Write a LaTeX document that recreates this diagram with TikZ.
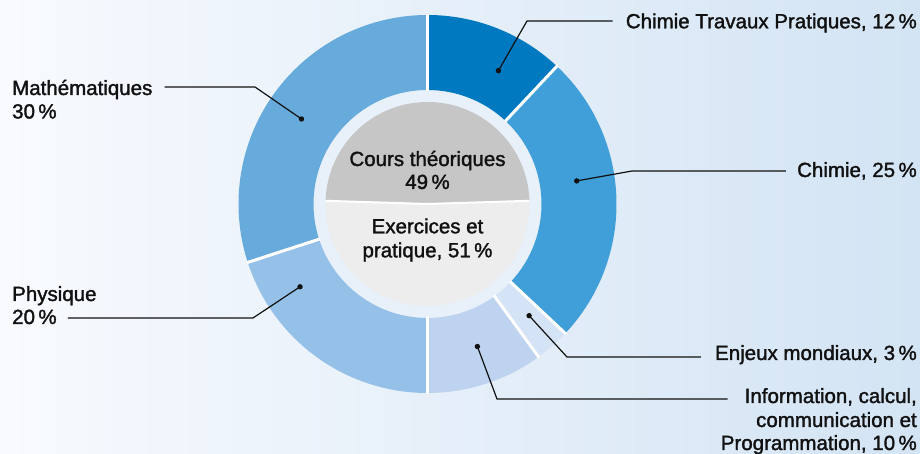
\documentclass[tikz,border=0pt]{standalone}
\usepackage{fontspec}
\setmainfont{Liberation Sans}[FakeBold=1.6]
\usetikzlibrary{calc}
\definecolor{bgL}{HTML}{F8FAFE}
\definecolor{bgR}{HTML}{D3E4F4}
\definecolor{pale}{HTML}{E8F0FA}
\definecolor{cCTP}{HTML}{0079C1}
\definecolor{cCh}{HTML}{409FD8}
\definecolor{cEn}{HTML}{D4E3F5}
\definecolor{cIn}{HTML}{BDD3EF}
\definecolor{cPh}{HTML}{95C0E8}
\definecolor{cMa}{HTML}{67ABDC}
\definecolor{gTop}{HTML}{C6C6C6}
\definecolor{gBot}{HTML}{EDEDED}
\definecolor{ink}{HTML}{111111}
\begin{document}
\begin{tikzpicture}[x=1pt,y=1pt,
  lbl/.style={font=\fontsize{20.5}{24}\selectfont, text=ink, inner sep=0pt},
  leader/.style={draw=ink, line width=1.2pt},
  dotm/.style={circle, fill=ink, inner sep=0pt, minimum size=5.4pt},
  sep/.style={draw=white, line width=3pt}]
\shade[left color=bgL, right color=bgR] (0,0) rectangle (920,454);
\useasboundingbox (0,0) rectangle (920,454);
\coordinate (C) at (427.5,250);
% pale disc
\fill[pale] (C) circle (114);
% ring segments
\foreach \a/\b/\c in {46.8/90/cCTP, -43.2/46.8/cCh, -54/-43.2/cEn, -90/-54/cIn, -162/-90/cPh, 90/198/cMa} {
  \fill[\c] ($(C)+(\a:114)$) arc[start angle=\a,end angle=\b,radius=114]
    -- ($(C)+(\b:189)$) arc[start angle=\b,end angle=\a,radius=189] -- cycle;
}
\foreach \a in {90,46.8,-43.2,-54,-90,-162}
  \draw[sep] ($(C)+(\a:113)$) -- ($(C)+(\a:190)$);
% inner pie
\fill[gTop] (C) -- ($(C)+(1.8:102)$) arc[start angle=1.8,end angle=178.2,radius=102] -- cycle;
\fill[gBot] (C) -- ($(C)+(178.2:102)$) arc[start angle=178.2,end angle=361.8,radius=102] -- cycle;
\draw[draw=white, line width=2pt] ($(C)+(178.2:102)$) -- (C) -- ($(C)+(1.8:102)$);
% inner texts
\node[lbl, anchor=base] (tCours) at (427.5,288) {Cours théoriques};
\node[lbl, anchor=base] (tCoursP) at (427.5,265) {49\,\%};
\node[lbl, anchor=base] (tEx) at (427.5,220.7) {Exercices et};
\node[lbl, anchor=base] (tExP) at (427.5,196.7) {pratique, 51\,\%};
% dots
\node[dotm] (dCTP) at ($(C)+(62:151)$) {};
\node[dotm] (dCh) at ($(C)+(8.8:151)$) {};
\node[dotm] (dEn) at ($(C)+(-47.7:151)$) {};
\node[dotm] (dIn) at ($(C)+(-70.7:151)$) {};
\node[dotm] (dPh) at ($(C)+(213:152)$) {};
\node[dotm] (dMa) at ($(C)+(146:152)$) {};
% labels
\node[lbl, anchor=base east] (lCTP) at (917,425.7) {Chimie Travaux Pratiques, 12\,\%};
\node[lbl, anchor=base east] (lCh) at (917,277) {Chimie, 25\,\%};
\node[lbl, anchor=base east] (lEn) at (917,94) {Enjeux mondiaux, 3\,\%};
\node[lbl, anchor=base east] (lIn1) at (917,51) {Information, calcul,};
\node[lbl, anchor=base east] (lIn2) at (917,27) {communication et};
\node[lbl, anchor=base east] (lIn3) at (917,4) {Programmation, 10\,\%};
\node[lbl, anchor=base west] (lMa1) at (12,359) {Mathématiques};
\node[lbl, anchor=base west] (lMa2) at (12,335.5) {30\,\%};
\node[lbl, anchor=base west] (lPh1) at (12,153) {Physique};
\node[lbl, anchor=base west] (lPh2) at (12,130) {20\,\%};
% bends
\coordinate (bCTP) at (527,433);
\coordinate (bCh) at (632,283);
\coordinate (bEn) at (567,97);
\coordinate (bIn) at (497,55);
\coordinate (bMa) at (255,367);
\coordinate (bPh) at (253,136);
% leaders
\draw[leader] (dCTP.center) -- (bCTP) -- ($(bCTP -| lCTP.west)+(-13,0)$);
\draw[leader] (dCh.center) -- (bCh) -- ($(bCh -| lCh.west)+(-11,0)$);
\draw[leader] (dEn.center) -- (bEn) -- ($(bEn -| lEn.west)+(-14,0)$);
\draw[leader] (dIn.center) -- (bIn) -- ($(bIn -| lIn1.west)+(-17,0)$);
\draw[leader] (dMa.center) -- (bMa) -- ($(bMa -| lMa1.east)+(12,0)$);
\draw[leader] (dPh.center) -- (bPh) -- ($(bPh -| lPh2.east)+(11,0)$);
\end{tikzpicture}
\end{document}
